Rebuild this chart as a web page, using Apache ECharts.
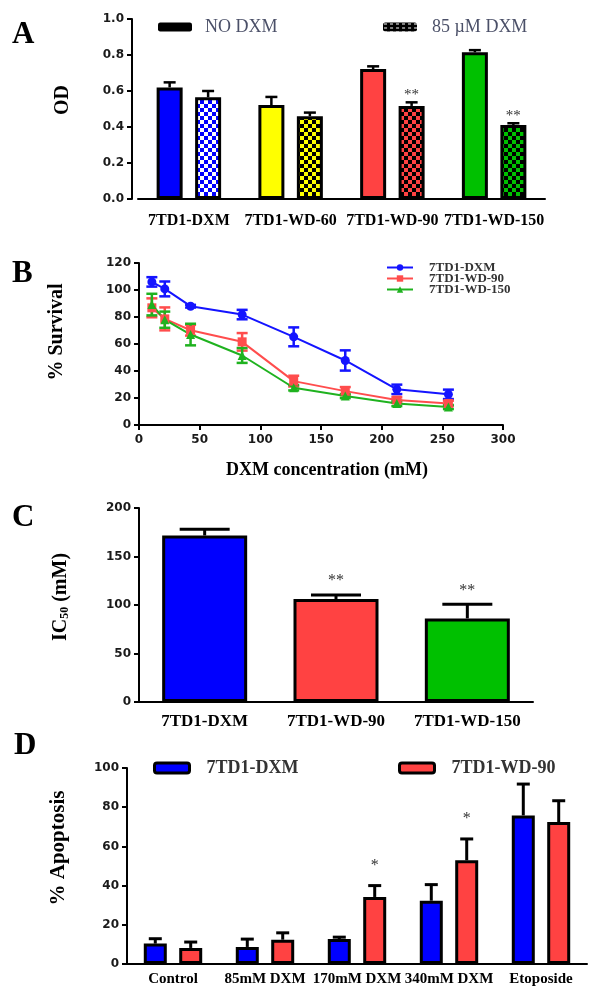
<!DOCTYPE html>
<html><head><meta charset="utf-8">
<script src="https://cdn.jsdelivr.net/npm/echarts@6/dist/echarts.min.js"></script>
<style>html,body{margin:0;padding:0;background:#fff}#c{width:602px;height:999px}</style>
</head><body><div id="c"></div>
<script>
// ---------- Panel A ----------
const catsA = ['7TD1-DXM', '7TD1-WD-60', '7TD1-WD-90', '7TD1-WD-150'];
const seriesNamesA = ['NO DXM', '85 µM DXM'];
const odNoDxm = [0.62, 0.522, 0.722, 0.815];
const odNoDxmErr = [0.028, 0.045, 0.015, 0.012];
const od85 = [0.565, 0.46, 0.517, 0.411];
const od85Err = [0.035, 0.02, 0.02, 0.01];
const sigA85 = ['', '', '**', '**'];
const yTicksA = [0, 0.2, 0.4, 0.6, 0.8, 1.0];

// ---------- Panel B ----------
const seriesNamesB = ['7TD1-DXM', '7TD1-WD-90', '7TD1-WD-150'];
const doseB = [10.6, 21.25, 42.5, 85, 127.5, 170, 212.5, 255];
const survDxm = [106, 100.8, 88, 81.8, 65.3, 47.8, 26.4, 22.7];
const survDxmErr = [3.5, 5.5, 1, 3.5, 7, 7.5, 3.5, 3.5];
const survWd90 = [86.8, 78.6, 70.2, 61.6, 32.5, 25.1, 18.5, 16];
const survWd90Err = [7, 8.5, 4, 6.5, 4, 3, 2, 2];
const survWd150 = [89.2, 78, 67, 51.5, 27.6, 21.4, 16, 13.3];
const survWd150Err = [8, 6, 8, 5.5, 2, 1.5, 2, 1.5];
const xTicksB = [0, 50, 100, 150, 200, 250, 300];
const yTicksB = [0, 20, 40, 60, 80, 100, 120];

// ---------- Panel C ----------
const catsC = ['7TD1-DXM', '7TD1-WD-90', '7TD1-WD-150'];
const ic50 = [171.7, 106.2, 86.2];
const ic50Err = [6.5, 4, 14.5];
const sigC = ['', '**', '**'];
const yTicksC = [0, 50, 100, 150, 200];

// ---------- Panel D ----------
const catsD = ['Control', '85mM DXM', '170mM DXM', '340mM DXM', 'Etoposide'];
const seriesNamesD = ['7TD1-DXM ', '7TD1-WD-90 '];
const apoDxm = [10.4, 8.7, 12.7, 32.3, 75.8];
const apoDxmErr = [2.5, 4, 1, 8.2, 16];
const apoWd90 = [8.2, 12.4, 34.2, 52.9, 72.4];
const apoWd90Err = [3, 3.5, 5.8, 10.9, 10.9];
const sigD = ['', '', '*', '*', ''];
const yTicksD = [0, 20, 40, 60, 80, 100];

// ---------- styles ----------
const serif = '"Liberation Serif", "Times New Roman", serif';
const sans = '"DejaVu Sans", sans-serif';
const BLUE = '#0000ff', YELLOW = '#ffff00', RED = '#ff4242', GREEN = '#00c000';
const colorsA = [BLUE, YELLOW, RED, GREEN];
const colorsC = [BLUE, RED, GREEN];

function checker(c1, c2, s) {
  const cv = document.createElement('canvas');
  cv.width = cv.height = 2 * s;
  const ctx = cv.getContext('2d');
  ctx.fillStyle = c1; ctx.fillRect(0, 0, 2 * s, 2 * s);
  ctx.fillStyle = c2; ctx.fillRect(0, 0, s, s); ctx.fillRect(s, s, s, s);
  return { image: cv, repeat: 'repeat' };
}
const checkA = [checker(BLUE, '#ffffff', 4), checker(YELLOW, '#000', 4), checker(RED, '#000', 4), checker(GREEN, '#000', 4)];
const legendCheck = (function () {
  const cv = document.createElement('canvas'); cv.width = 6; cv.height = 4;
  const ctx = cv.getContext('2d'); ctx.fillStyle = '#000'; ctx.fillRect(0, 0, 6, 4);
  ctx.fillStyle = '#fff'; ctx.fillRect(1, 1, 3, 1);
  return { image: cv, repeat: 'repeat' };
})();

const AX = { lineStyle: { color: '#000', width: 2 } };
const TICK = { length: 5, lineStyle: { color: '#000', width: 2 } };
const tickLbl = { fontFamily: sans, fontWeight: 'bold', fontSize: 12, color: '#1a1a1a' };
const catLbl = { fontFamily: serif, fontWeight: 'bold', fontSize: 17, color: '#000', interval: 0, hideOverlap: false };
const yName = { fontFamily: serif, fontWeight: 'bold', fontSize: 19, color: '#000' };

function errSeries(xi, vals, errs, o) {
  return {
    type: 'custom', xAxisIndex: xi, yAxisIndex: xi, z: o.z || 5, silent: true,
    data: vals.map((v, i) => [o.xs ? o.xs[i] : i, v, errs[i]]),
    encode: { x: 0, y: 1 },
    renderItem: function (params, api) {
      const xv = api.value(0), v = api.value(1), e = api.value(2);
      const p0 = api.coord([xv, v]);
      const pt = api.coord([xv, v + e]);
      const pb = api.coord([xv, v - e]);
      const x = p0[0] + (o.offset || 0), hw = o.cap / 2;
      const st = { stroke: o.color, lineWidth: o.lw };
      const yb = o.two ? pb[1] : p0[1];
      const ch = [
        { type: 'line', shape: { x1: x, y1: yb, x2: x, y2: pt[1] }, style: st },
        { type: 'line', shape: { x1: x - hw, y1: pt[1], x2: x + hw, y2: pt[1] }, style: st }
      ];
      if (o.two) ch.push({ type: 'line', shape: { x1: x - hw, y1: pb[1], x2: x + hw, y2: pb[1] }, style: st });
      const s = o.sig && o.sig[params.dataIndex];
      if (s) ch.push({ type: 'text', style: { text: s, x: x, y: pt[1] - o.sigGap, align: 'center', verticalAlign: 'bottom', font: o.sigFont, fill: '#333' } });
      return { type: 'group', children: ch };
    }
  };
}

// bar geometry
const bwA = 26, gapA = 0.48, offA = (bwA + bwA * gapA) / 2;
const bwD = 23, gapD = 0.54, offD = (bwD + bwD * gapD) / 2;

const option = {
  animation: false,
  backgroundColor: '#fff',
  grid: [
    { left: 138, top: 19, width: 407, height: 180 },
    { left: 139, top: 263, width: 364, height: 162 },
    { left: 139, top: 508, width: 394, height: 194 },
    { left: 127, top: 768, width: 460, height: 196 }
  ],
  xAxis: [
    { type: 'category', gridIndex: 0, data: catsA, axisLine: AX, axisTick: Object.assign({ alignWithLabel: true }, TICK, { length: 6 }), axisLabel: Object.assign({ margin: 14 }, catLbl, { fontSize: 16 }) },
    { type: 'value', gridIndex: 1, min: xTicksB[0], max: xTicksB[xTicksB.length - 1], interval: xTicksB[1] - xTicksB[0], axisLine: AX, axisTick: TICK, splitLine: { show: false }, axisLabel: Object.assign({ margin: 9 }, tickLbl),
      name: 'DXM concentration (mM)', nameLocation: 'middle', nameGap: 36, nameTextStyle: { fontFamily: serif, fontWeight: 'bold', fontSize: 18, color: '#000', padding: [0, 0, 0, 12] } },
    { type: 'category', gridIndex: 2, data: catsC, axisLine: AX, axisTick: Object.assign({ alignWithLabel: true }, TICK, { length: 6 }), axisLabel: Object.assign({ margin: 11 }, catLbl) },
    { type: 'category', gridIndex: 3, data: catsD, axisLine: AX, axisTick: Object.assign({ alignWithLabel: true }, TICK, { length: 6 }), axisLabel: Object.assign({ margin: 8 }, catLbl, { fontSize: 15 }) }
  ],
  yAxis: [
    { type: 'value', gridIndex: 0, offset: 6, min: yTicksA[0], max: yTicksA[yTicksA.length - 1], interval: yTicksA[1] - yTicksA[0], axisLine: { show: true, lineStyle: AX.lineStyle }, axisTick: { show: true, length: 5, lineStyle: TICK.lineStyle }, splitLine: { show: false },
      axisLabel: Object.assign({ margin: 8, formatter: v => v.toFixed(1) }, tickLbl), name: 'OD', nameLocation: 'middle', nameRotate: 90, nameGap: 59, nameTextStyle: Object.assign({}, yName, { fontSize: 20, padding: [0, 0, 0, 18] }) },
    { type: 'value', gridIndex: 1, min: yTicksB[0], max: yTicksB[yTicksB.length - 1], interval: yTicksB[1] - yTicksB[0], axisLine: { show: true, lineStyle: AX.lineStyle }, axisTick: { show: true, length: 5, lineStyle: TICK.lineStyle }, splitLine: { show: false },
      axisLabel: Object.assign({ margin: 8 }, tickLbl), name: '% Survival', nameLocation: 'middle', nameRotate: 90, nameGap: 72, nameTextStyle: Object.assign({}, yName, { fontSize: 20, padding: [0, 0, 0, 24] }) },
    { type: 'value', gridIndex: 2, min: yTicksC[0], max: yTicksC[yTicksC.length - 1], interval: yTicksC[1] - yTicksC[0], axisLine: { show: true, lineStyle: AX.lineStyle }, axisTick: { show: true, length: 5, lineStyle: TICK.lineStyle }, splitLine: { show: false },
      axisLabel: Object.assign({ margin: 8 }, tickLbl), name: '{a|IC}{b|50}{a| (mM)}', nameLocation: 'middle', nameRotate: 90, nameGap: 68,
      nameTextStyle: Object.assign({}, yName, { padding: [0, 0, 0, 16], rich: { a: { fontFamily: serif, fontWeight: 'bold', fontSize: 20, color: '#000' }, b: { fontFamily: serif, fontWeight: 'bold', fontSize: 12, color: '#000', padding: [9, 0, 0, 0] } } }) },
    { type: 'value', gridIndex: 3, min: yTicksD[0], max: yTicksD[yTicksD.length - 1], interval: yTicksD[1] - yTicksD[0], axisLine: { show: true, lineStyle: AX.lineStyle }, axisTick: { show: true, length: 5, lineStyle: TICK.lineStyle }, splitLine: { show: false },
      axisLabel: Object.assign({ margin: 8 }, tickLbl), name: '% Apoptosis', nameLocation: 'middle', nameRotate: 90, nameGap: 58, nameTextStyle: Object.assign({}, yName, { fontSize: 21, padding: [0, 0, 0, 36] }) }
  ],
  legend: [
    { data: [{ name: seriesNamesA[0], itemStyle: { color: '#000', borderWidth: 0 } }], left: 153, top: 13, icon: 'roundRect', itemWidth: 34, itemHeight: 9, selectedMode: false,
      textStyle: { fontFamily: serif, fontSize: 18, color: '#4b5068', padding: [0, 0, 0, 8] } },
    { data: [{ name: seriesNamesA[1], itemStyle: { color: legendCheck, borderWidth: 0 } }], left: 378, top: 13, icon: 'roundRect', itemWidth: 34, itemHeight: 9, selectedMode: false,
      textStyle: { fontFamily: serif, fontSize: 18, color: '#4b5068', padding: [0, 0, 0, 10] } },
    { data: seriesNamesB, orient: 'vertical', left: 381, top: 256, itemWidth: 26, itemHeight: 8, itemGap: -2, selectedMode: false,
      textStyle: { fontFamily: serif, fontWeight: 'bold', fontSize: 13, color: '#333', padding: [0, 0, 0, 11] } },
    { data: [seriesNamesD[0]], left: 148, top: 754, icon: 'roundRect', itemWidth: 35, itemHeight: 10, selectedMode: false,
      itemStyle: { borderColor: '#000', borderWidth: 3 },
      textStyle: { fontFamily: serif, fontWeight: 'bold', fontSize: 18, color: '#333', padding: [0, 0, 0, 12] } },
    { data: [seriesNamesD[1]], left: 393, top: 754, icon: 'roundRect', itemWidth: 35, itemHeight: 10, selectedMode: false,
      itemStyle: { borderColor: '#000', borderWidth: 3 },
      textStyle: { fontFamily: serif, fontWeight: 'bold', fontSize: 18, color: '#333', padding: [0, 0, 0, 12] } }
  ],
  graphic: [
    { type: 'text', left: 12, top: 19, style: { text: 'A', font: 'bold 31px ' + serif, fill: '#000' } },
    { type: 'text', left: 12, top: 258, style: { text: 'B', font: 'bold 31px ' + serif, fill: '#000' } },
    { type: 'text', left: 12, top: 502, style: { text: 'C', font: 'bold 31px ' + serif, fill: '#000' } },
    { type: 'text', left: 14, top: 730, style: { text: 'D', font: 'bold 31px ' + serif, fill: '#000' } }
  ],
  series: [
    // Panel A
    { type: 'bar', name: seriesNamesA[0], xAxisIndex: 0, yAxisIndex: 0, barWidth: bwA, barGap: (gapA * 100) + '%',
      data: odNoDxm.map((v, i) => ({ value: v, itemStyle: { color: colorsA[i] } })), itemStyle: { borderColor: '#000', borderWidth: 3 }, z: 2 },
    { type: 'bar', name: seriesNamesA[1], xAxisIndex: 0, yAxisIndex: 0, barWidth: bwA, barGap: (gapA * 100) + '%',
      data: od85.map((v, i) => ({ value: v, itemStyle: { color: checkA[i] } })), itemStyle: { borderColor: '#000', borderWidth: 3 }, z: 2 },
    errSeries(0, odNoDxm, odNoDxmErr, { offset: -offA, cap: 12, lw: 2.5, color: '#000' }),
    errSeries(0, od85, od85Err, { offset: offA, cap: 12, lw: 2.5, color: '#000', sig: sigA85, sigGap: 0, sigFont: '15px ' + serif }),
    // Panel B
    errSeries(1, survDxm, survDxmErr, { xs: doseB, two: true, cap: 11, lw: 2.5, color: '#1414ff', z: 3 }),
    errSeries(1, survWd90, survWd90Err, { xs: doseB, two: true, cap: 11, lw: 2.5, color: '#ff4d4d', z: 3 }),
    errSeries(1, survWd150, survWd150Err, { xs: doseB, two: true, cap: 11, lw: 2.5, color: '#1fb21f', z: 3 }),
    { type: 'line', name: seriesNamesB[0], xAxisIndex: 1, yAxisIndex: 1, data: doseB.map((d, i) => [d, survDxm[i]]), symbol: 'circle', symbolSize: 9,
      itemStyle: { color: '#1414ff' }, lineStyle: { color: '#1414ff', width: 2 }, z: 4 },
    { type: 'line', name: seriesNamesB[1], xAxisIndex: 1, yAxisIndex: 1, data: doseB.map((d, i) => [d, survWd90[i]]), symbol: 'rect', symbolSize: 9,
      itemStyle: { color: '#ff4d4d' }, lineStyle: { color: '#ff4d4d', width: 2 }, z: 4 },
    { type: 'line', name: seriesNamesB[2], xAxisIndex: 1, yAxisIndex: 1, data: doseB.map((d, i) => [d, survWd150[i]]), symbol: 'triangle', symbolSize: 9,
      itemStyle: { color: '#1fb21f' }, lineStyle: { color: '#1fb21f', width: 2 }, z: 4 },
    // Panel C
    { type: 'bar', name: 'IC50', xAxisIndex: 2, yAxisIndex: 2, barWidth: 85,
      data: ic50.map((v, i) => ({ value: v, itemStyle: { color: colorsC[i] } })), itemStyle: { borderColor: '#000', borderWidth: 3 }, z: 2 },
    errSeries(2, ic50, ic50Err, { cap: 50, lw: 3, color: '#000', sig: sigC, sigGap: 6, sigFont: '16px ' + serif }),
    // Panel D
    { type: 'bar', name: seriesNamesD[0], xAxisIndex: 3, yAxisIndex: 3, barWidth: bwD, barGap: (gapD * 100) + '%', data: apoDxm,
      itemStyle: { color: BLUE, borderColor: '#000', borderWidth: 3 }, z: 2 },
    { type: 'bar', name: seriesNamesD[1], xAxisIndex: 3, yAxisIndex: 3, barWidth: bwD, barGap: (gapD * 100) + '%', data: apoWd90,
      itemStyle: { color: RED, borderColor: '#000', borderWidth: 3 }, z: 2 },
    errSeries(3, apoDxm, apoDxmErr, { offset: -offD, cap: 13, lw: 3, color: '#000' }),
    errSeries(3, apoWd90, apoWd90Err, { offset: offD, cap: 13, lw: 3, color: '#000', sig: sigD, sigGap: 12, sigFont: '16px ' + serif })
  ]
};
const chart = echarts.init(document.getElementById('c'));
chart.setOption(option);
</script></body></html>
